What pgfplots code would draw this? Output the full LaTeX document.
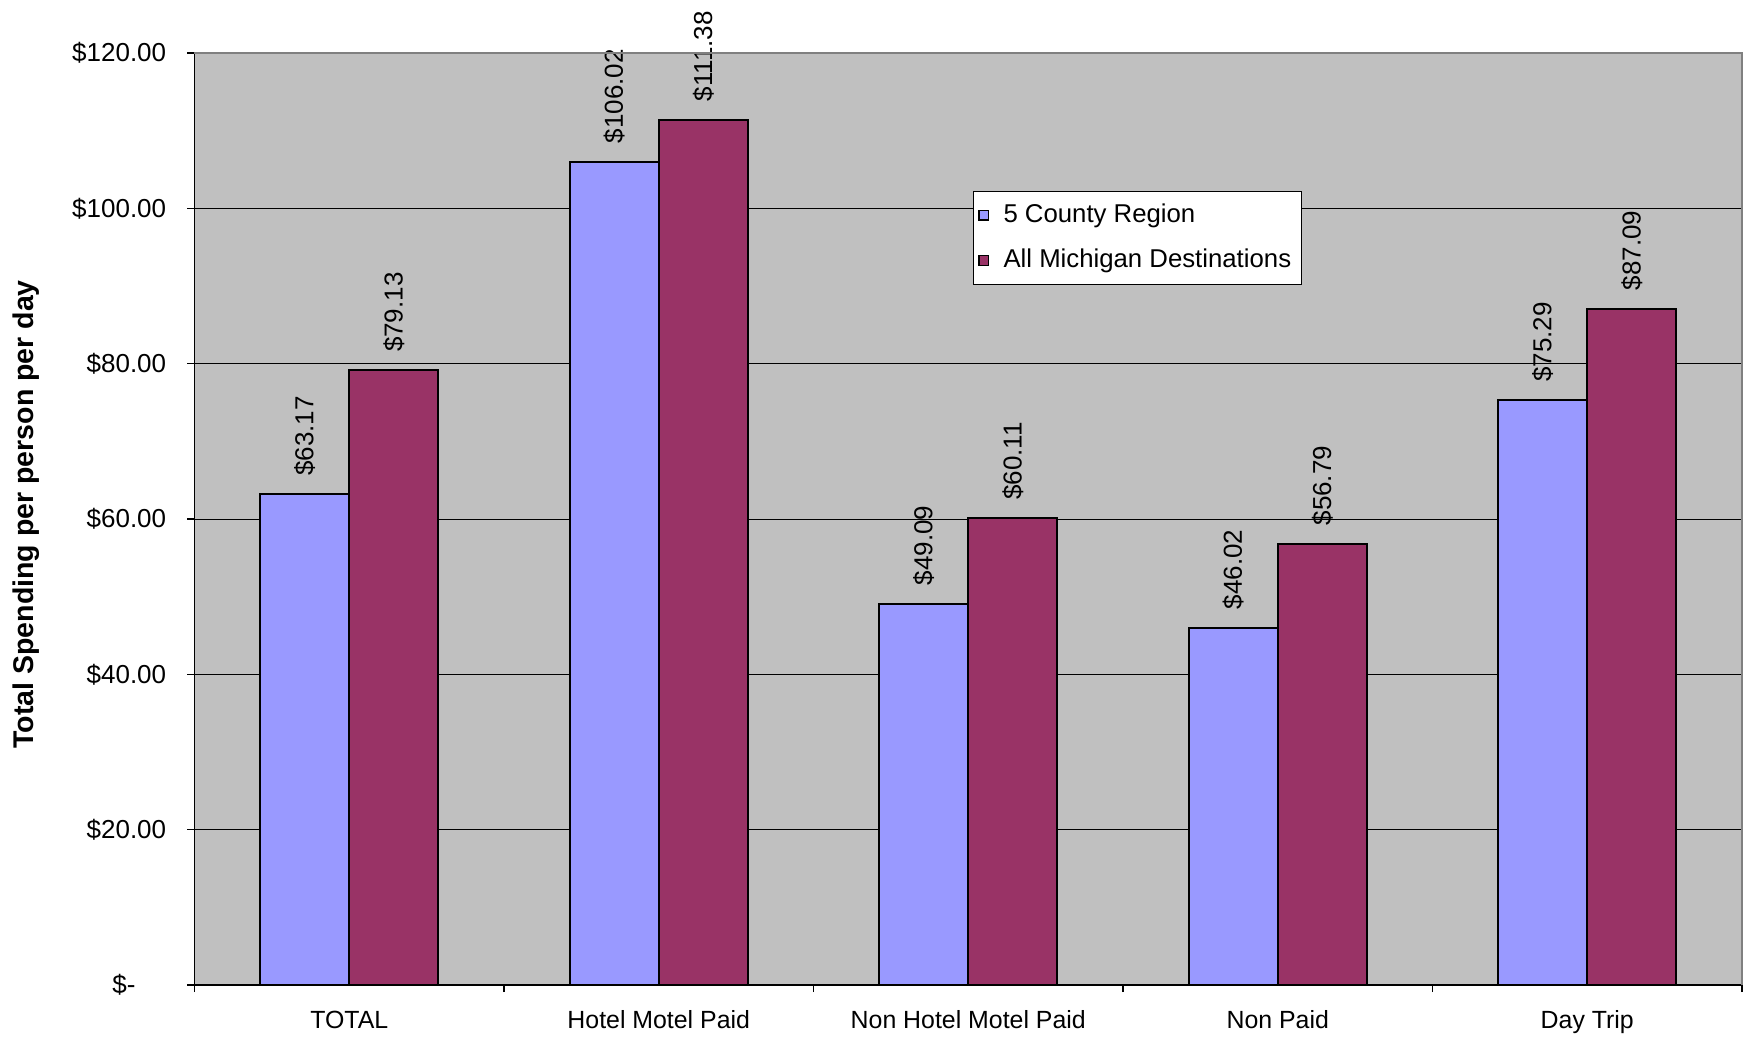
\documentclass[border=0pt]{standalone}
\usepackage{pgfplots}
\pgfplotsset{compat=1.18}
\usepackage{fontspec}
\setmainfont{Liberation Sans}
\definecolor{bgray}{HTML}{C0C0C0}
\definecolor{cblue}{HTML}{9999FF}
\definecolor{cmaroon}{HTML}{993366}
\begin{document}
\begin{tikzpicture}
\useasboundingbox (-77.8pt,-24pt) rectangle (623.4pt,394pt);
\begin{axis}[
  at={(0,0)}, anchor=south west,
  scale only axis, width=619pt, height=372.8pt,
  ybar=0pt, bar width=0.288,
  xmin=-0.5, xmax=4.5, ymin=0, ymax=120,
  axis lines=left, axis line style={-, black, line width=0.5pt},
  axis background/.style={fill=bgray},
  ymajorgrids, grid style={black, line width=0.4pt},
  ytick={0,20,40,60,80,100,120},
  yticklabels={\$-\rule{12.3pt}{0pt},\$20.00,\$40.00,\$60.00,\$80.00,\$100.00,\$120.00},
  xtick={-0.5,0.5,1.5,2.5,3.5,4.5},
  xticklabels={TOTAL,Hotel Motel Paid,Non Hotel Motel Paid,Non Paid,Day Trip,},
  tick align=outside, major tick length=2.8pt,
  tick style={black, line width=0.5pt},
  xticklabel style={xshift=61.9pt, yshift=-4pt, font=\fontsize{9.95}{12}\selectfont},
  yticklabel style={xshift=-5pt, font=\fontsize{10.4}{12.5}\selectfont},
  ylabel={\textbf{Total Spending per person per day}},
  ylabel style={at={(axis description cs:-0.1090,0.505)}, anchor=center, font=\fontsize{11.4}{13.5}\selectfont},
  clip=false,
  /pgf/number format/assume math mode=true,
  nodes near coords={\$\pgfmathprintnumber[fixed,fixed zerofill,precision=2]{\pgfplotspointmeta}},
  nodes near coords style={rotate=90, anchor=west, inner xsep=7pt, inner ysep=0pt, black, font=\fontsize{10.4}{12.5}\selectfont},
  legend style={at={(rel axis cs:0.503,0.852)}, anchor=north west, draw=black, line width=0.4pt, fill=white,
     font=\fontsize{10.3}{12.4}\selectfont, row sep=5.2pt, inner xsep=2pt, inner ysep=3pt},
  legend cell align=left,
  legend image code/.code={\draw[#1, draw=black, line width=0.5pt] (1pt,-1.9pt) rectangle (4.8pt,1.9pt); \path (8.4pt,0pt);},
  after end axis/.code={\draw[gray, line width=0.5pt] (rel axis cs:0,1) -- (rel axis cs:1,1) -- (rel axis cs:1,0);},
]
\addplot[fill=cblue, draw=black, line width=0.8pt] coordinates {(0,63.17) (1,106.02) (2,49.09) (3,46.02) (4,75.29)};
\addplot[fill=cmaroon, draw=black, line width=0.8pt] coordinates {(0,79.13) (1,111.38) (2,60.11) (3,56.79) (4,87.09)};
\legend{5 County Region, All Michigan Destinations}
\end{axis}
\end{tikzpicture}
\end{document}
